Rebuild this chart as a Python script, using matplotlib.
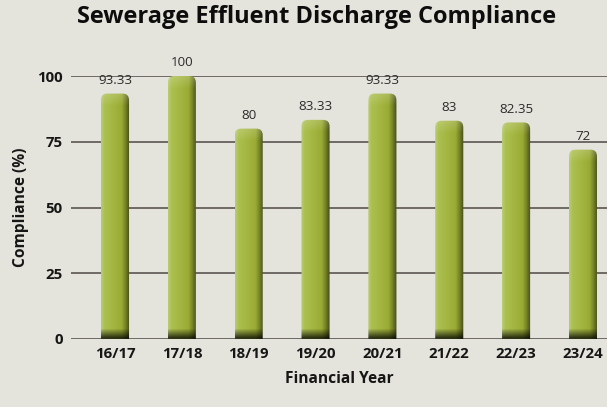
import numpy as np
import matplotlib.pyplot as plt
from matplotlib.patches import FancyBboxPatch

plt.rcParams['font.family'] = ['Open Sans', 'DejaVu Sans']

years = ['16/17', '17/18', '18/19', '19/20', '20/21', '21/22', '22/23', '23/24']
compliance = [93.33, 100, 80, 83.33, 93.33, 83, 82.35, 72]
value_labels = ['93.33', '100', '80', '83.33', '93.33', '83', '82.35', '72']

bg = '#e5e4dc'
grid_col = '#6e6964'
txt = '#161616'

fig = plt.figure(figsize=(6.07, 4.07), dpi=100, facecolor=bg)
ax = fig.add_axes([71/607, 1-339/407, 1-71/607, (339-76)/407])
ax.set_facecolor(bg)

x = np.arange(len(years))
bw = 0.42
bars = ax.bar(x, compliance, width=bw, color='#a3b43e', zorder=2)

ax.set_xlim(-0.658, 7.36)
ax.set_ylim(0, 100)
ax.set_yticks([0, 25, 50, 75, 100])
ax.yaxis.grid(True, color=grid_col, lw=1.4, zorder=1)
ax.set_axisbelow(True)
for s in ax.spines.values():
    s.set_visible(False)
ax.tick_params(axis='y', length=0, pad=6)
ax.tick_params(axis='x', length=0, pad=6)
ax.set_xticks(x)
ax.set_xticklabels(years, fontsize=10.8, fontweight='bold', color=txt)
for t in ax.get_yticklabels():
    t.set_fontsize(10.8)
    t.set_fontweight('bold')
    t.set_color(txt)

ax.set_xlabel('Financial Year', fontsize=11.2, fontweight='bold', color=txt, labelpad=7)
ax.set_ylabel('Compliance (%)', fontsize=11.2, fontweight='bold', color=txt, labelpad=6)
fig.text(0.522, 0.958, 'Sewerage Effluent Discharge Compliance', ha='center', va='center',
         fontsize=17, fontweight='bold', color='#0d0d0d')

# pixel scale, used to keep the rounded caps circular
px_x = ax.bbox.width / (ax.get_xlim()[1] - ax.get_xlim()[0])
px_y = ax.bbox.height / (ax.get_ylim()[1] - ax.get_ylim()[0])

# horizontal shading across the cylinder
stops = np.array([0.0, 0.12, 0.45, 0.72, 0.86, 1.0])
cols = np.array([
    [0.73, 0.80, 0.46],
    [0.67, 0.75, 0.31],
    [0.64, 0.71, 0.25],
    [0.60, 0.67, 0.20],
    [0.45, 0.50, 0.15],
    [0.27, 0.29, 0.10],
])
tx = np.linspace(0, 1, 60)
row = np.stack([np.interp(tx, stops, cols[:, k]) for k in range(3)], axis=1)

for rect, h, lab in zip(bars, compliance, value_labels):
    rect.set_visible(False)
    x0 = rect.get_x()
    w = rect.get_width()
    hpx = int(h * px_y)
    img = np.repeat(row[None, :, :], hpx, axis=0)
    depth = np.arange(hpx)
    # top highlight
    top = np.clip(1 - depth / 12.0, 0, 1)[:, None, None]
    img = img + (1 - img) * 0.18 * top
    # dark base band
    bot = np.clip((depth - (hpx - 11)) / 9.0, 0, 1)[:, None, None]
    img = np.clip(img * (1 - 0.72 * bot), 0, 1)
    r = 6.5 / px_x
    clip = FancyBboxPatch((x0, -5), w, h + 5,
                          boxstyle='round,pad=0,rounding_size=%f' % r,
                          mutation_aspect=px_x / px_y,
                          transform=ax.transData, facecolor='none', edgecolor='none')
    ax.add_patch(clip)
    im = ax.imshow(img, extent=(x0, x0 + w, 0, h), aspect='auto', zorder=3,
                   interpolation='bilinear')
    im.set_clip_path(clip)
    ax.text(x0 + w / 2, h + 2.6, lab, ha='center', va='bottom', fontsize=9.6,
            color='#2b2b2b', clip_on=False, zorder=4)

ax.set_xlim(-0.658, 7.36)
ax.set_ylim(0, 100)
fig.savefig('out.png', dpi=100, facecolor=bg)
